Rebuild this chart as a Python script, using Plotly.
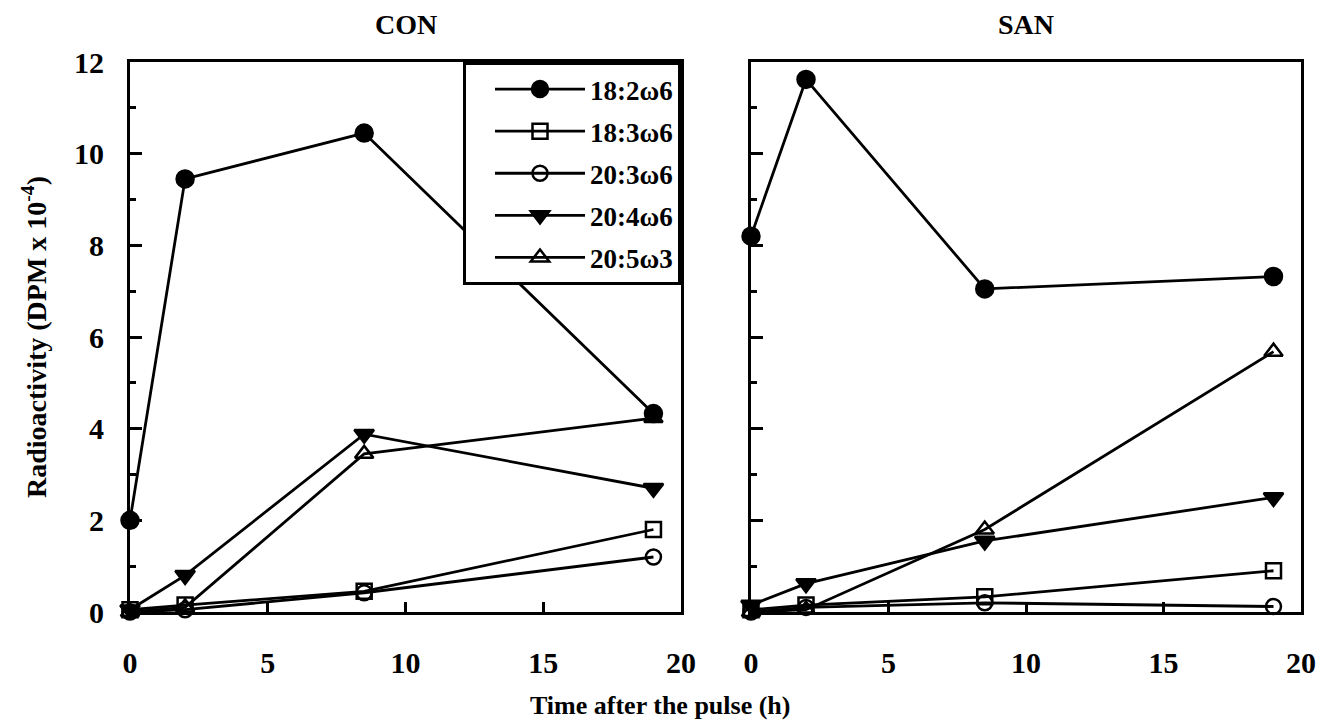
import plotly.graph_objects as go

# ---------------- data ----------------
time_h = [0, 2, 8.5, 19]

series_names = ["18:2ω6", "18:3ω6", "20:3ω6", "20:4ω6", "20:5ω3"]

con_18_2w6 = [2.0, 9.45, 10.45, 4.33]
con_18_3w6 = [0.05, 0.15, 0.45, 1.8]
con_20_3w6 = [0.0, 0.05, 0.42, 1.2]
con_20_4w6 = [0.05, 0.8, 3.88, 2.7]
con_20_5w3 = [0.0, 0.1, 3.45, 4.23]

san_18_2w6 = [8.2, 11.62, 7.05, 7.32]
san_18_3w6 = [0.05, 0.15, 0.33, 0.9]
san_20_3w6 = [0.0, 0.1, 0.2, 0.12]
san_20_4w6 = [0.15, 0.62, 1.55, 2.5]
san_20_5w3 = [0.0, 0.05, 1.8, 5.68]

panel_titles = ["CON", "SAN"]
x_tick_vals = [0, 5, 10, 15, 20]
y_tick_vals = [0, 2, 4, 6, 8, 10, 12]

# ---------------- styles ----------------
styles = [
    dict(symbol="circle", size=17),
    dict(symbol="square-open", size=15),
    dict(symbol="circle-open", size=15),
    dict(symbol="triangle-down", size=17),
    dict(symbol="triangle-up-open", size=16),
]

FONT = "Liberation Serif"

fig = go.Figure()

con_data = [con_18_2w6, con_18_3w6, con_20_3w6, con_20_4w6, con_20_5w3]
san_data = [san_18_2w6, san_18_3w6, san_20_3w6, san_20_4w6, san_20_5w3]

for i, (name, vals) in enumerate(zip(series_names, con_data)):
    st = styles[i]
    fig.add_trace(go.Scatter(
        x=time_h, y=vals, name=name, mode="lines+markers",
        legendgroup=name,
        line=dict(color="black", width=2.8),
        marker=dict(symbol=st["symbol"], size=st["size"], color="black",
                    line=dict(color="black", width=2.5)),
        cliponaxis=False, xaxis="x", yaxis="y", showlegend=True,
    ))
for i, (name, vals) in enumerate(zip(series_names, san_data)):
    st = styles[i]
    fig.add_trace(go.Scatter(
        x=time_h, y=vals, name=name, mode="lines+markers",
        legendgroup=name,
        line=dict(color="black", width=2.8),
        marker=dict(symbol=st["symbol"], size=st["size"], color="black",
                    line=dict(color="black", width=2.5)),
        cliponaxis=False, xaxis="x2", yaxis="y2", showlegend=False,
    ))

W, H = 1320, 724
left_dom = [130 / W, 681 / W]
right_dom = [751 / W, 1301 / W]
y_dom = [1 - 612 / H, 1 - 62 / H]

axis_common = dict(
    showline=True, linecolor="black", linewidth=3, mirror=True,
    showgrid=False, zeroline=False, automargin=False,
    tickfont=dict(family=FONT, size=30, color="black", weight="bold"),
)

fig.update_layout(
    width=W, height=H,
    margin=dict(l=0, r=0, t=0, b=0, autoexpand=False),
    paper_bgcolor="white", plot_bgcolor="white",
    font=dict(family=FONT, color="black", weight="bold"),
    xaxis=dict(domain=left_dom, range=[0, 20], tickvals=x_tick_vals,
               ticks="inside", ticklen=10, tickwidth=2.5, tickcolor="black",
               ticklabelstandoff=22, anchor="y", **axis_common),
    xaxis2=dict(domain=right_dom, range=[0, 20], tickvals=x_tick_vals,
                ticks="inside", ticklen=10, tickwidth=2.5, tickcolor="black",
                ticklabelstandoff=22, anchor="y2", **axis_common),
    yaxis=dict(domain=y_dom, range=[0, 12], tickvals=y_tick_vals,
               ticks="inside", ticklen=12, tickwidth=2.5, tickcolor="black",
               ticklabelstandoff=17, anchor="x",
               minor=dict(ticks="inside", ticklen=6, tickwidth=2.5,
                          tickcolor="black", dtick=1, tick0=1),
               title=dict(text="Radioactivity (DPM x 10<sup>-4</sup>)",
                          font=dict(family=FONT, size=28, color="black",
                                    weight="bold"),
                          standoff=20),
               **axis_common),
    yaxis2=dict(domain=y_dom, range=[0, 12], tickvals=y_tick_vals,
                ticks="inside", ticklen=12, tickwidth=2.5, tickcolor="black",
                showticklabels=False, anchor="x2",
                minor=dict(ticks="inside", ticklen=6, tickwidth=2.5,
                           tickcolor="black", dtick=1, tick0=1),
                **axis_common),
    legend=dict(
        x=681 / W, xanchor="right", y=1 - 62 / H, yanchor="top",
        xref="paper", yref="paper",
        bgcolor="white", bordercolor="black", borderwidth=3,
        font=dict(family=FONT, size=27, color="black", weight="bold"),
        itemwidth=90, tracegroupgap=4, traceorder="grouped",
        indentation=24,
    ),
    annotations=[
        dict(text=panel_titles[0], x=(left_dom[0] + left_dom[1]) / 2,
             y=1 - 25 / H, xref="paper", yref="paper", showarrow=False,
             xanchor="center", yanchor="middle",
             font=dict(family=FONT, size=28, color="black", weight="bold")),
        dict(text=panel_titles[1], x=(right_dom[0] + right_dom[1]) / 2,
             y=1 - 25 / H, xref="paper", yref="paper", showarrow=False,
             xanchor="center", yanchor="middle",
             font=dict(family=FONT, size=28, color="black", weight="bold")),
        dict(text="Time after the pulse (h)", x=0.5, y=1 - 705 / H,
             xref="paper", yref="paper", showarrow=False,
             xanchor="center", yanchor="middle",
             font=dict(family=FONT, size=26, color="black", weight="bold")),
    ],
)

fig.write_html("out.html")
